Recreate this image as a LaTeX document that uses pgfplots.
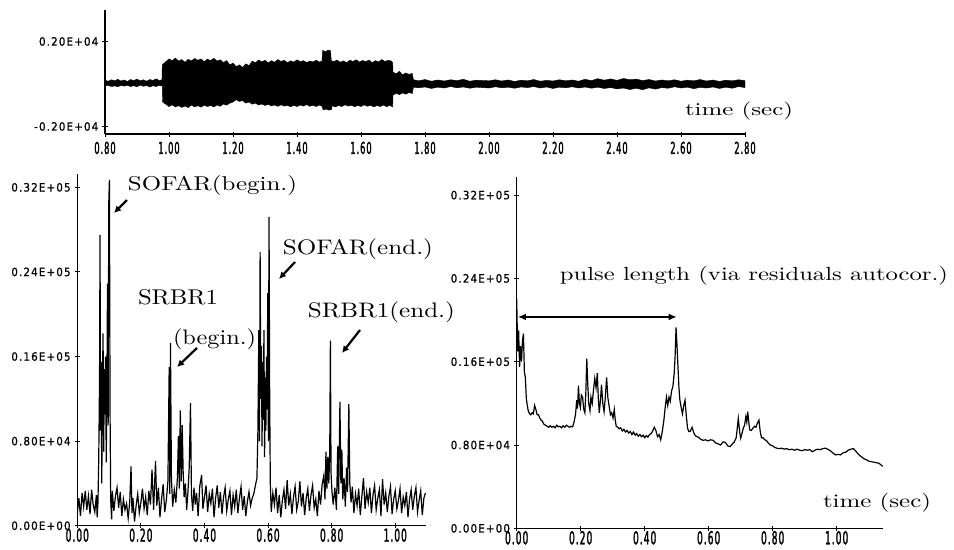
\documentclass[border=0pt]{standalone}
\usepackage{pgfplots}
\pgfplotsset{compat=1.18}
\usepackage{fontspec}
\usetikzlibrary{arrows.meta}
\newfontfamily\ytf[FakeStretch=0.9,LetterSpace=10,FakeBold=1]{DejaVu Sans}
\newfontfamily\xtf[FakeStretch=0.5,LetterSpace=6,FakeBold=1.5]{DejaVu Sans}
% annotation text fitted to the size it has in the scan
\newcommand\ann[3]{\resizebox*{#1}{#2}{#3}}

\pgfplotsset{
  scope/.style={
    scale only axis, axis lines*=left, scaled ticks=false,
    tick align=center, major tick length=5bp,
    axis line style={line width=1.3bp}, every tick/.style={black, line width=1bp},
    yticklabel style={font=\ytf\fontsize{11.5}{12}\selectfont, anchor=east, inner sep=0pt, xshift=-4bp},
    xticklabel style={font=\xtf\fontsize{18}{19}\selectfont, anchor=north, inner sep=0pt, yshift=0bp},
    anchor=south west,
  },
}

\begin{document}
\begin{tikzpicture}
\path[use as bounding box] (0,0) rectangle (954bp,-550bp);

% top: raw record
\begin{axis}[scope, at={(105bp,-134bp)}, width=640bp, height=124bp,
  xmin=0.8, xmax=2.8, ymin=-2353, ymax=3482,
  xtick={0.8,1.0,...,2.8},
  xticklabels={0.80,1.00,1.20,1.40,1.60,1.80,2.00,2.20,2.40,2.60,2.80},
  xticklabel style={font=\xtf\fontsize{16.5}{18}\selectfont, yshift=-5bp},
  ytick={-2000,2000}, yticklabels={-0.20E+04,0.20E+04}]
\addplot[fill=black, draw=black, line width=0.4bp] coordinates {
(0.800,180) (0.810,130) (0.820,200) (0.830,150) (0.840,220) (0.850,140) (0.860,190) (0.870,120)
(0.880,210) (0.890,160) (0.900,230) (0.910,150) (0.920,200) (0.930,130) (0.940,210) (0.950,170)
(0.960,240) (0.970,160) (0.978,200)
(0.979,900) (0.990,1050) (1.000,1180) (1.010,1100) (1.020,1220) (1.030,1080) (1.040,1150) (1.050,1020)
(1.060,1160) (1.070,1090) (1.080,1200) (1.090,1120) (1.100,1180) (1.110,1050) (1.120,1170) (1.130,1100)
(1.140,1210) (1.150,1080) (1.160,1140) (1.170,1010) (1.180,1100) (1.190,900) (1.200,980) (1.210,820)
(1.220,900) (1.230,780) (1.240,950) (1.250,860) (1.260,1080) (1.270,1000) (1.280,1130) (1.290,1040)
(1.300,1120) (1.310,990) (1.320,1100) (1.330,1020) (1.340,1150) (1.350,1060) (1.360,1120) (1.370,1000)
(1.380,1090) (1.390,1030) (1.400,1140) (1.410,1050) (1.420,1100) (1.430,1010) (1.440,1080) (1.450,1040)
(1.460,1120) (1.470,1030) (1.478,1080) (1.480,1580) (1.490,1520) (1.497,1600) (1.505,1560) (1.507,1100)
(1.515,1050) (1.525,1130) (1.535,1020) (1.545,1090) (1.555,1000) (1.565,1120) (1.575,1060) (1.585,1140)
(1.595,1030) (1.605,1110) (1.615,1050) (1.625,1130) (1.635,1000) (1.645,1100) (1.655,1040) (1.665,1150)
(1.675,1060) (1.685,1120) (1.695,1080) (1.699,1000) (1.700,560) (1.710,480) (1.720,600) (1.730,430)
(1.740,520) (1.750,450) (1.760,500) (1.764,200) (1.780,150) (1.800,210) (1.820,130) (1.840,190)
(1.860,140) (1.880,200) (1.900,160) (1.920,220) (1.940,130) (1.960,180) (2.000,150) (2.020,200)
(2.040,140) (2.060,190) (2.080,120) (2.100,180) (2.120,150) (2.140,210) (2.160,130) (2.180,170)
(2.200,140) (2.220,200) (2.240,150) (2.260,190) (2.280,130) (2.300,220) (2.320,160) (2.340,250)
(2.360,180) (2.380,240) (2.400,170) (2.420,260) (2.440,200) (2.460,230) (2.480,160) (2.500,210)
(2.520,140) (2.540,190) (2.560,150) (2.580,200) (2.600,130) (2.620,180) (2.640,150) (2.660,210)
(2.680,140) (2.700,190) (2.720,120) (2.740,180) (2.760,150) (2.780,200) (2.800,160)
(2.800,-170) (2.780,-120) (2.760,-200) (2.740,-150) (2.720,-210) (2.700,-140) (2.680,-190) (2.660,-160)
(2.640,-220) (2.620,-150) (2.600,-190) (2.580,-130) (2.560,-200) (2.540,-170) (2.520,-240) (2.500,-180)
(2.480,-270) (2.460,-200) (2.440,-260) (2.420,-190) (2.400,-230) (2.380,-170) (2.360,-210) (2.340,-150)
(2.320,-200) (2.300,-140) (2.280,-190) (2.260,-130) (2.240,-180) (2.220,-150) (2.200,-210) (2.180,-140)
(2.160,-190) (2.140,-120) (2.120,-170) (2.100,-140) (2.080,-200) (2.060,-150) (2.040,-180) (2.020,-130)
(2.000,-190) (1.960,-150) (1.940,-200) (1.920,-140) (1.900,-180) (1.880,-120) (1.860,-190) (1.840,-150)
(1.820,-210) (1.800,-140) (1.780,-180) (1.764,-150) (1.760,-450) (1.750,-400) (1.740,-480) (1.730,-420)
(1.720,-500) (1.710,-440) (1.700,-520) (1.699,-1080) (1.690,-1000) (1.680,-1070) (1.670,-990) (1.660,-1060)
(1.650,-1010) (1.640,-1080) (1.630,-1000) (1.620,-1050) (1.610,-980) (1.600,-1060) (1.590,-1010) (1.580,-1070)
(1.570,-1000) (1.560,-1040) (1.550,-980) (1.540,-1060) (1.530,-1010) (1.520,-1080) (1.510,-1020) (1.508,-1200)
(1.500,-1230) (1.490,-1180) (1.482,-1220) (1.478,-1050) (1.470,-990) (1.460,-1060) (1.450,-1000) (1.440,-1050)
(1.430,-970) (1.420,-1040) (1.410,-990) (1.400,-1060) (1.390,-1000) (1.380,-1070) (1.370,-1010) (1.360,-1040)
(1.350,-980) (1.340,-1050) (1.330,-990) (1.320,-1030) (1.310,-960) (1.300,-1010) (1.290,-940) (1.280,-990)
(1.270,-900) (1.260,-950) (1.250,-850) (1.240,-900) (1.230,-780) (1.220,-820) (1.210,-740) (1.200,-850)
(1.190,-900) (1.180,-1000) (1.170,-940) (1.160,-1050) (1.150,-990) (1.140,-1080) (1.130,-1010) (1.120,-1060)
(1.110,-1000) (1.100,-1090) (1.090,-1020) (1.080,-1080) (1.070,-990) (1.060,-1110) (1.050,-1040) (1.040,-1100)
(1.030,-1020) (1.020,-1080) (1.010,-980) (1.000,-1060) (0.990,-950) (0.980,-850) (0.979,-100) (0.970,-60)
(0.960,-120) (0.950,-80) (0.940,-140) (0.930,-70) (0.920,-110) (0.910,-50) (0.900,-130) (0.890,-80)
(0.880,-120) (0.870,-60) (0.860,-100) (0.850,-70) (0.840,-130) (0.830,-90) (0.820,-120) (0.810,-60)
(0.800,-100)
} -- cycle;
\end{axis}

% bottom left: residuals
\begin{axis}[scope, at={(77.3bp,-525.7bp)}, width=348.8bp, height=352.1bp,
  xmin=0, xmax=1.097, ymin=0, ymax=33300,
  xtick={0,0.2,...,1.0}, xticklabels={0.00,0.20,0.40,0.60,0.80,1.00},
  ytick={0,8000,16000,24000,32000},
  yticklabels={0.00E+00,0.80E+04,0.16E+05,0.24E+05,0.32E+05}]
\addplot[black, line width=1.2bp] coordinates {
(0.000,1200) (0.005,2600) (0.010,900) (0.015,3100) (0.020,1800) (0.025,3300) (0.030,1500) (0.035,2800)
(0.040,1100) (0.045,3400) (0.050,2000) (0.055,1300) (0.060,2900) (0.0625,800) (0.065,2200) (0.0675,6500)
(0.070,14000) (0.0715,27500) (0.073,9000) (0.075,15500) (0.077,4000) (0.079,13000) (0.081,18200) (0.083,7000)
(0.085,14800) (0.087,10500) (0.089,16000) (0.091,6000) (0.093,12500) (0.095,22900) (0.097,9500) (0.099,30500)
(0.101,32700) (0.103,11000) (0.105,2500) (0.108,600) (0.110,3300) (0.115,1400) (0.120,2800) (0.125,3600)
(0.130,1700) (0.135,3200) (0.140,900) (0.145,2500) (0.150,1500) (0.155,2100) (0.160,700) (0.165,2300)
(0.169,5600) (0.172,1200) (0.175,2600) (0.180,400) (0.185,1900) (0.190,3000) (0.195,1200) (0.200,2200)
(0.205,3500) (0.210,1600) (0.215,2700) (0.220,1000) (0.225,3300) (0.230,2000) (0.235,5300) (0.240,1500)
(0.246,6100) (0.250,1900) (0.255,3600) (0.260,800) (0.265,2500) (0.270,3900) (0.275,1300) (0.280,2400)
(0.285,4200) (0.289,15000) (0.291,3000) (0.293,17300) (0.296,4500) (0.300,1800) (0.305,3400) (0.310,2200)
(0.315,4600) (0.318,8500) (0.321,3500) (0.324,10900) (0.327,4200) (0.330,9500) (0.333,5000) (0.336,2700)
(0.340,4000) (0.344,1500) (0.348,3200) (0.352,5500) (0.356,11600) (0.359,3000) (0.363,1400) (0.367,3600)
(0.371,2000) (0.375,3100) (0.380,900) (0.385,3700) (0.391,4800) (0.395,1600) (0.400,2700) (0.405,3800)
(0.410,1300) (0.415,3000) (0.420,2100) (0.425,3500) (0.430,800) (0.435,2600) (0.440,3800) (0.445,1700)
(0.450,3200) (0.455,1100) (0.460,2700) (0.465,3600) (0.470,1400) (0.475,2500) (0.480,3300) (0.485,1000)
(0.490,2900) (0.495,1800) (0.500,3400) (0.505,1200) (0.510,2600) (0.515,3700) (0.520,1500) (0.525,2800)
(0.530,900) (0.535,2300) (0.540,3200) (0.545,1900) (0.550,2600) (0.555,3000) (0.560,3800) (0.565,4500)
(0.568,9000) (0.571,18500) (0.573,8000) (0.575,25900) (0.577,12000) (0.579,17000) (0.581,7500) (0.583,15500)
(0.585,10000) (0.587,18500) (0.589,6500) (0.591,14000) (0.593,9000) (0.595,16000) (0.597,11000) (0.599,22000)
(0.601,8000) (0.603,29200) (0.605,12500) (0.607,4000) (0.610,1300) (0.615,3100) (0.620,2000) (0.625,3600)
(0.630,1200) (0.635,2900) (0.640,800) (0.645,2400) (0.650,3400) (0.655,1600) (0.660,4300) (0.665,1900)
(0.670,3000) (0.675,1100) (0.680,2700) (0.685,3700) (0.690,1500) (0.695,2300) (0.700,4200) (0.705,1800)
(0.710,3100) (0.715,1000) (0.720,2600) (0.725,3500) (0.730,1400) (0.735,2900) (0.740,3800) (0.745,1700)
(0.750,2500) (0.755,900) (0.760,3300) (0.765,2000) (0.770,3900) (0.775,4700) (0.779,2500) (0.782,7000)
(0.785,3500) (0.788,6500) (0.791,4000) (0.794,7200) (0.796,17500) (0.798,5000) (0.801,3200) (0.805,2000)
(0.810,3600) (0.815,1500) (0.819,7500) (0.822,3000) (0.826,11700) (0.829,4000) (0.832,7200) (0.835,2500)
(0.839,4500) (0.843,1800) (0.847,5500) (0.850,3200) (0.854,11500) (0.857,4000) (0.861,2200) (0.865,3700)
(0.870,1200) (0.875,3000) (0.880,1900) (0.885,3500) (0.890,1000) (0.895,2800) (0.900,4500) (0.905,1600)
(0.910,3200) (0.915,2200) (0.920,3600) (0.925,1200) (0.930,2900) (0.935,3800) (0.940,1500) (0.945,2600)
(0.950,3400) (0.955,900) (0.960,4400) (0.965,2000) (0.970,3100) (0.975,1300) (0.980,2800) (0.985,3700)
(0.990,1100) (0.995,2500) (1.000,3300) (1.005,1600) (1.010,2400) (1.015,3500) (1.020,1200) (1.025,2700)
(1.030,1900) (1.035,3200) (1.040,800) (1.045,2500) (1.050,3400) (1.055,1500) (1.060,2800) (1.065,3600)
(1.070,1300) (1.075,2400) (1.080,3300) (1.085,1000) (1.090,2600) (1.095,3100)
};
\end{axis}

% bottom right: residuals autocorrelation
\begin{axis}[scope, at={(516.7bp,-528.3bp)}, width=366.7bp, height=350.9bp,
  xmin=0, xmax=1.146, ymin=0, ymax=33700,
  xtick={0,0.2,...,1.0}, xticklabels={0.00,0.20,0.40,0.60,0.80,1.00},
  ytick={0,8000,16000,24000,32000},
  yticklabels={0.00E+00,0.80E+04,0.16E+05,0.24E+05,0.32E+05}]
\addplot[black, line width=1.2bp] coordinates {
(0.000,22000) (0.003,17000) (0.006,19000) (0.009,15500) (0.012,17500) (0.015,16000) (0.018,18000) (0.021,18700)
(0.024,15000) (0.027,14500) (0.030,12500) (0.033,11800) (0.036,11300) (0.040,11000) (0.044,10900) (0.048,11100)
(0.052,11000) (0.056,11800) (0.060,11400) (0.064,10900) (0.068,10900) (0.072,10600) (0.076,10400) (0.080,10300)
(0.085,10000) (0.090,9900) (0.095,9800) (0.100,9700) (0.105,9850) (0.110,9700) (0.115,9800) (0.120,9650)
(0.125,9900) (0.130,9750) (0.135,9800) (0.140,9650) (0.145,9850) (0.150,9700) (0.155,9900) (0.160,9800)
(0.165,9700) (0.170,9800) (0.175,9750) (0.180,10300) (0.184,11000) (0.1875,12300) (0.190,11500) (0.193,13700)
(0.196,12000) (0.199,11600) (0.202,12800) (0.206,12600) (0.209,11500) (0.213,11100) (0.216,13000) (0.219,16300)
(0.222,13900) (0.225,12000) (0.229,11300) (0.232,12600) (0.236,12000) (0.240,13300) (0.244,14400) (0.248,13500)
(0.252,14900) (0.255,12500) (0.258,11100) (0.262,12400) (0.265,13800) (0.269,12000) (0.273,11200) (0.277,12600)
(0.281,14500) (0.285,12500) (0.289,11700) (0.293,10900) (0.297,11100) (0.301,10600) (0.305,11400) (0.308,10400)
(0.311,9800) (0.316,9700) (0.320,9550) (0.325,9650) (0.330,9350) (0.335,9500) (0.340,9250) (0.345,9400)
(0.350,9150) (0.355,9300) (0.360,9000) (0.365,9250) (0.370,8950) (0.375,9100) (0.380,8850) (0.385,9000)
(0.390,8800) (0.395,8950) (0.400,8700) (0.405,8900) (0.410,8750) (0.415,9000) (0.420,9100) (0.425,9350)
(0.430,9700) (0.435,9400) (0.440,8800) (0.445,9000) (0.450,8500) (0.455,9300) (0.460,10400) (0.464,11600)
(0.468,12600) (0.472,11800) (0.476,12600) (0.480,12200) (0.484,13200) (0.488,13600) (0.492,14800) (0.495,16500)
(0.498,19300) (0.501,17500) (0.504,15500) (0.507,13500) (0.510,12300) (0.514,11600) (0.518,11000) (0.522,11800)
(0.526,12300) (0.530,10800) (0.534,9600) (0.538,9300) (0.542,9300) (0.548,9700) (0.553,9200) (0.558,8900)
(0.563,8800) (0.568,8750) (0.575,8550) (0.582,8450) (0.590,8500) (0.598,8400) (0.606,8500) (0.614,8450)
(0.622,8200) (0.630,8100) (0.637,8000) (0.645,8300) (0.652,8250) (0.660,7900) (0.667,7850) (0.674,8100)
(0.680,8300) (0.686,8700) (0.6925,10550) (0.697,9200) (0.700,8650) (0.704,9100) (0.708,9600) (0.712,9900)
(0.716,10700) (0.719,10200) (0.722,11200) (0.725,10300) (0.728,9450) (0.733,9400) (0.738,9600) (0.743,9800)
(0.748,9700) (0.752,10100) (0.757,10400) (0.761,9300) (0.765,8700) (0.770,8700) (0.775,8500) (0.780,8450)
(0.786,8200) (0.792,8000) (0.798,7950) (0.805,7800) (0.812,7700) (0.820,7650) (0.828,7700) (0.836,7600)
(0.844,7650) (0.852,7550) (0.860,7600) (0.868,7500) (0.876,7600) (0.884,7500) (0.892,7450) (0.900,7550)
(0.908,7500) (0.916,7550) (0.924,7350) (0.932,7500) (0.940,7600) (0.948,7550) (0.956,7650) (0.964,7700)
(0.972,7600) (0.980,7450) (0.988,7250) (0.996,7050) (1.004,7100) (1.012,7050) (1.020,7250) (1.028,7300)
(1.036,7500) (1.044,7600) (1.052,7650) (1.060,7400) (1.068,7100) (1.076,6900) (1.084,6700) (1.092,6600)
(1.100,6450) (1.108,6400) (1.116,6350) (1.124,6300) (1.132,6250) (1.140,6050) (1.144,5950)
};
\draw[{Latex[length=8bp,width=7bp]}-{Latex[length=8bp,width=7bp]}, line width=1.6bp]
  (axis cs:0.004,20300) -- (axis cs:0.50,20300);
\end{axis}

% annotations
\begin{scope}[every node/.style={inner sep=0pt}]
\node at (739bp,-111bp) {\ann{108bp}{18bp}{time (sec)}};
\node at (877bp,-503bp) {\ann{108bp}{19bp}{time (sec)}};
\node at (212.5bp,-185bp) {\ann{169bp}{20bp}{SOFAR(begin.)}};
\node at (358bp,-249bp) {\ann{150bp}{21bp}{SOFAR(end.)}};
\node at (178bp,-297.5bp) {\ann{80bp}{15.5bp}{SRBR1}};
\node at (214.5bp,-339bp) {\ann{83bp}{21bp}{(begin.)}};
\node at (381.5bp,-312.5bp) {\ann{147bp}{21bp}{SRBR1(end.)}};
\node at (754bp,-276bp) {\ann{388bp}{19bp}{pulse length (via residuals autocor.)}};
\end{scope}
\begin{scope}[line width=2.2bp, -{Latex[length=7bp,width=7bp]}]
\draw (127bp,-200bp) -- (114bp,-213bp);
\draw (295bp,-262bp) -- (279bp,-279bp);
\draw (197bp,-348bp) -- (177bp,-367bp);
\draw (360bp,-330bp) -- (342bp,-353bp);
\end{scope}
\end{tikzpicture}
\end{document}
